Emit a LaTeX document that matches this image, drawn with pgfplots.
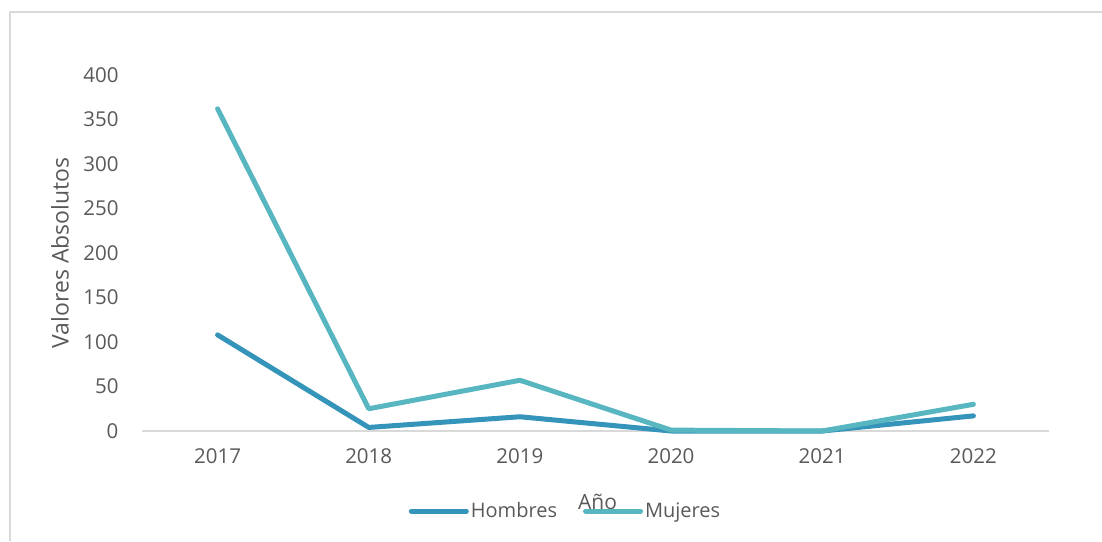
\documentclass[border=0pt]{standalone}
\usepackage{pgfplots}
\pgfplotsset{compat=1.18}
\usepackage{fontspec}
\setmainfont{Open Sans}
\definecolor{hom}{HTML}{3494BA}
\definecolor{muj}{HTML}{58B6C0}
\definecolor{txt}{HTML}{595959}
\definecolor{ax}{HTML}{D9D9D9}
\begin{document}
\begin{tikzpicture}[x=1pt,y=1pt]
\path[use as bounding box] (0,0) rectangle (1102,541);
\draw[ax, line width=1.2pt] (10,0) -- (10,529) -- (1102,529);
\begin{axis}[
  at={(142pt,110pt)}, anchor=origin,
  scale only axis, width=907pt, height=356pt,
  xmin=2016.5, xmax=2022.5, ymin=0, ymax=400,
  xtick={2017,...,2022}, ytick={0,50,...,400},
  xticklabel style={/pgf/number format/1000 sep={}},
  axis y line=none, axis x line*=bottom,
  x axis line style={ax, line width=1.2pt, -},
  major tick length=0pt,
  clip=false,
  font=\fontsize{20.5}{24}\selectfont, text=txt,
  tick label style={text=txt, font=\fontsize{20.5}{24}\selectfont},
  /pgf/number format/assume math mode=true,
  xticklabel style={yshift=-14pt},
  xlabel={Año}, xlabel style={at={(axis description cs:0.5,0)}, anchor=center, yshift=-71pt, xshift=2pt, text=txt, font=\fontsize{21}{24}\selectfont},
  legend style={draw=none, fill=none, at={(axis description cs:0.5,0)}, anchor=center, xshift=-30pt, yshift=-80pt, legend columns=2, font=\fontsize{20}{24}\selectfont, text=txt, /tikz/every even column/.append style={column sep=24pt}, inner sep=0pt},
  legend cell align=left,
  legend image code/.code={\draw[#1, line width=5pt, line cap=round] (0pt,0pt) -- (55pt,0pt);},
]
\addplot[hom, line width=5pt, line cap=round, line join=round] coordinates {(2017,108) (2018,4) (2019,16) (2020,0) (2021,0) (2022,17)};
\addlegendentry{Hombres}
\addplot[muj, line width=5pt, line cap=round, line join=round] coordinates {(2017,362) (2018,25) (2019,57) (2020,1) (2021,0) (2022,30)};
\addlegendentry{Mujeres}
\pgfplotsextra{
  \foreach \v in {0,50,...,400} {
    \node[anchor=east, text=txt, font=\fontsize{20.5}{24}\selectfont] at (axis cs:2016.5,\v) [xshift=-20pt] {\v};
  }
  \node[rotate=90, text=txt, font=\fontsize{23}{26}\selectfont] at (axis cs:2016.5,200) [yshift=82pt] {Valores Absolutos};
}
\end{axis}
\end{tikzpicture}
\end{document}
